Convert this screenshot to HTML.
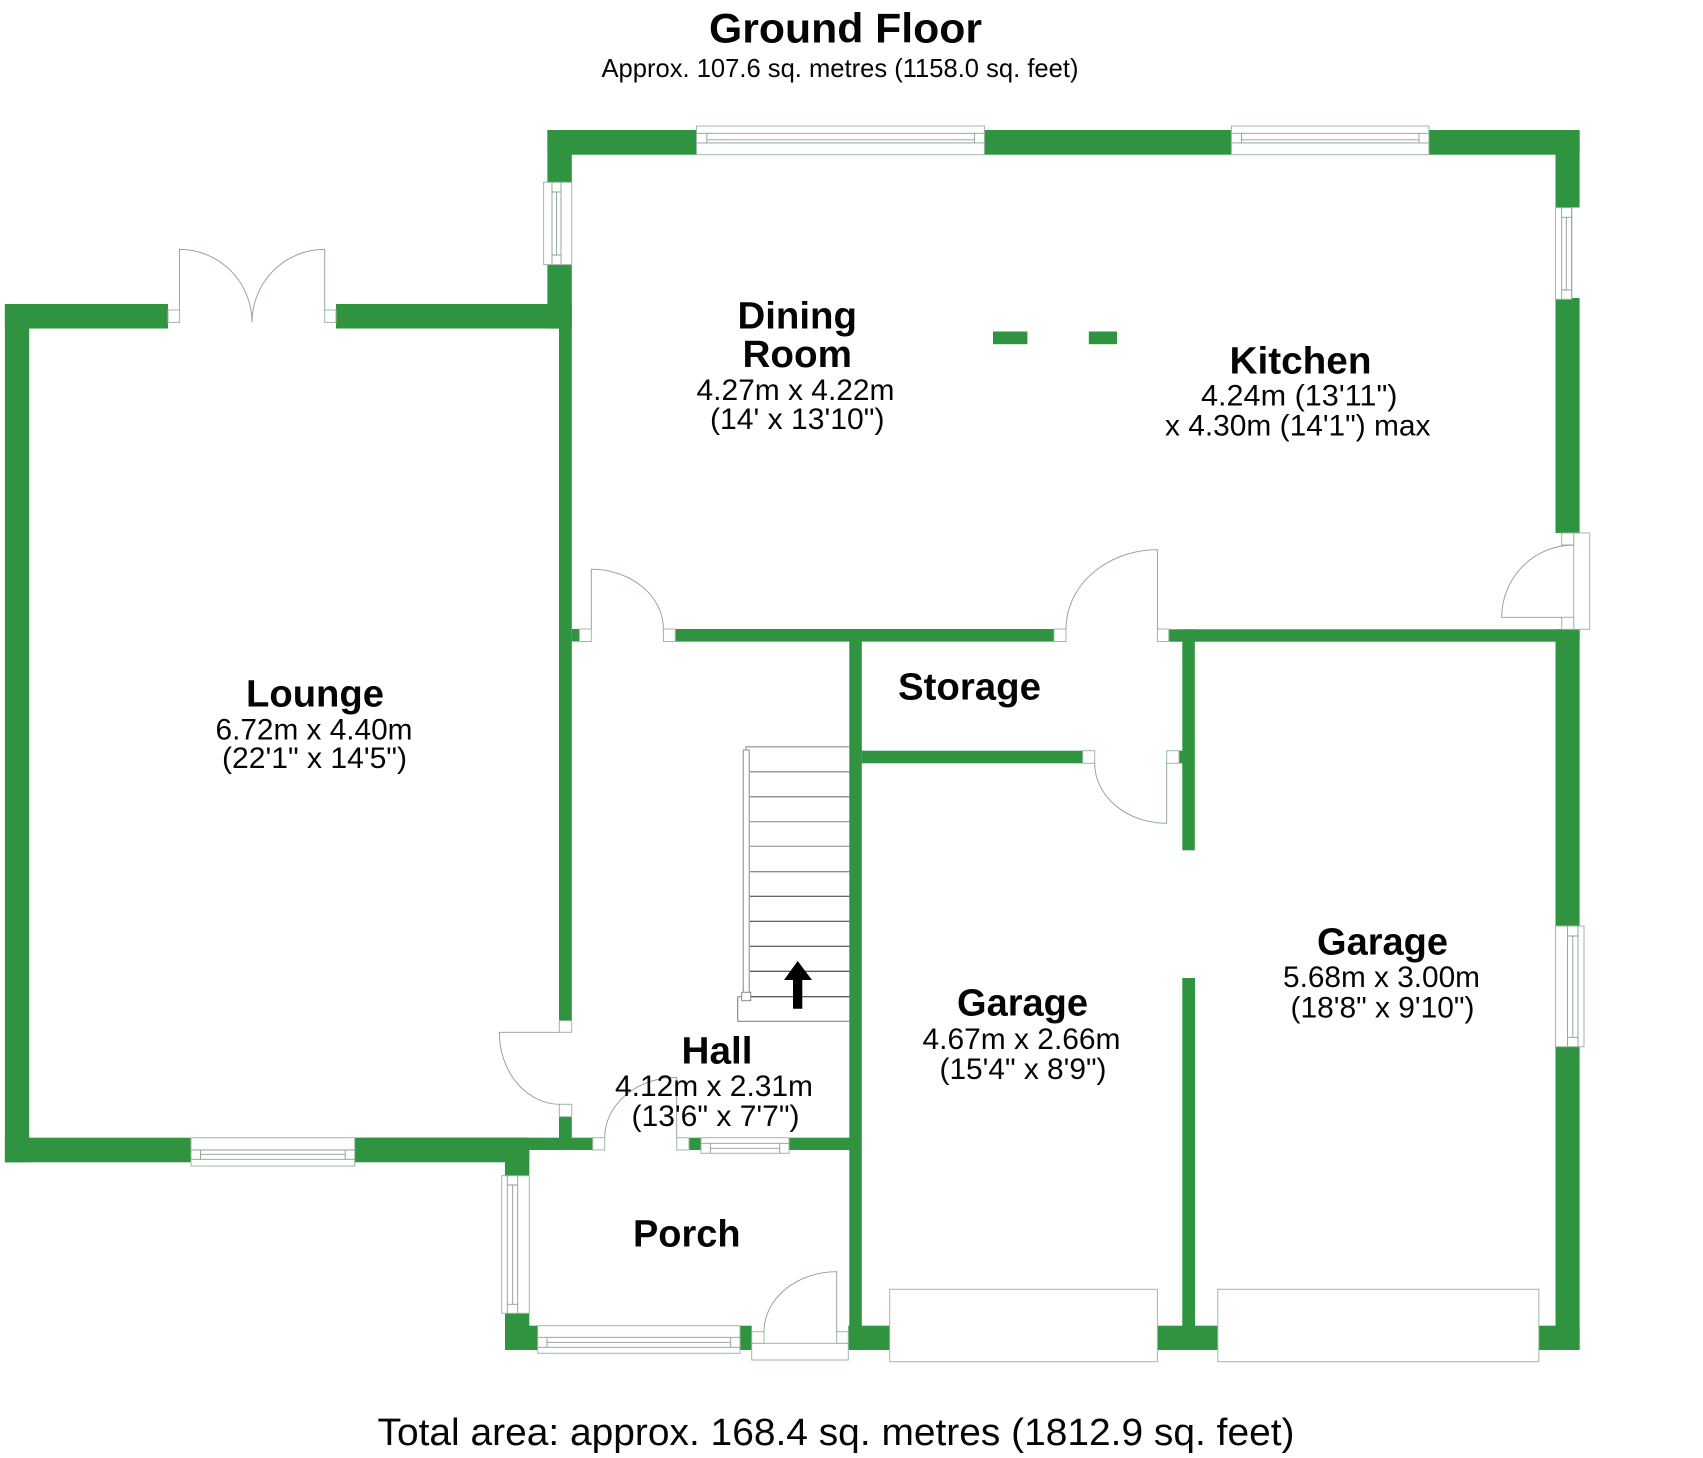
<!DOCTYPE html>
<html><head><meta charset="utf-8"><style>
html,body{margin:0;padding:0;background:#fff}
svg{display:block}
.w rect{fill:#2f933f}
.l *{fill:none;stroke:#8a9f92;stroke-width:.9}
.j *{fill:#fff;stroke:#9db8a6;stroke-width:1}
text{font-family:"Liberation Sans",sans-serif;fill:#050505}
.b{font-weight:bold;font-size:37.6px}
.d{font-size:29.4px}
</style></head><body>
<svg width="1703" height="1458" viewBox="0 0 1703 1458" xmlns="http://www.w3.org/2000/svg">
<rect width="1703" height="1458" fill="#fff"/>
<g class="w">
<rect x="547.4" y="130" width="149.1" height="24.7"/>
<rect x="547.4" y="130" width="24.4" height="52.3"/>
<rect x="547.4" y="264.6" width="24.4" height="64"/>
<rect x="4.9" y="304" width="163.1" height="24.5"/>
<rect x="4.9" y="304" width="24.3" height="858.3"/>
<rect x="336" y="304" width="235.8" height="24.5"/>
<rect x="559" y="328" width="12.8" height="692.7"/>
<rect x="571.8" y="629" width="7.6" height="12.5"/>
<rect x="675.3" y="629" width="378.7" height="12.6"/>
<rect x="849.3" y="629" width="12.5" height="721"/>
<rect x="861.7" y="750.7" width="221" height="12.6"/>
<rect x="984.4" y="130" width="247" height="24.7"/>
<rect x="1428.9" y="130" width="150.7" height="24.7"/>
<rect x="1555.5" y="130" width="24.1" height="77.5"/>
<rect x="1555.5" y="298" width="24.1" height="235"/>
<rect x="1555.5" y="629.3" width="24.1" height="297.4"/>
<rect x="1555.5" y="1047" width="24.1" height="303"/>
<rect x="1168.8" y="629.3" width="410.8" height="12.4"/>
<rect x="1182.3" y="629.3" width="12.5" height="221"/>
<rect x="1179" y="750.7" width="4" height="12.6"/>
<rect x="1182.3" y="978" width="12.7" height="372"/>
<rect x="993" y="331.5" width="34.4" height="12.7"/>
<rect x="1088.8" y="331.5" width="28.2" height="12.7"/>
<rect x="4.9" y="1137.7" width="186.1" height="24.6"/>
<rect x="354.7" y="1137.7" width="174.6" height="24.6"/>
<rect x="505" y="1137.7" width="24.3" height="38.3"/>
<rect x="354.7" y="1137.7" width="238" height="12.3"/>
<rect x="559" y="1116.7" width="12.8" height="21.5"/>
<rect x="689" y="1137.7" width="12" height="12.3"/>
<rect x="789" y="1137.7" width="60.5" height="12.3"/>
<rect x="505" y="1313.3" width="24.3" height="36.7"/>
<rect x="505" y="1325.7" width="32.7" height="24.3"/>
<rect x="740" y="1325.7" width="11.7" height="24.3"/>
<rect x="848.3" y="1325.7" width="41.7" height="24.3"/>
<rect x="1157.4" y="1325.7" width="60.4" height="24.3"/>
<rect x="1538.8" y="1325.7" width="40.8" height="24.3"/>
</g>
<g class="j">
<rect x="696.5" y="126" width="287.9" height="28.7"/>
<rect x="1231.4" y="126" width="197.5" height="28.7"/>
<rect x="543.6" y="182.3" width="28.2" height="82.3"/>
<rect x="1555.5" y="207.7" width="16.2" height="91.6"/>
<rect x="1573.7" y="533" width="16" height="96.3"/>
<rect x="1555.4" y="926" width="28.6" height="120.7"/>
<rect x="191" y="1137.7" width="163.7" height="28.3"/>
<rect x="501.7" y="1175.7" width="27.6" height="137.6"/>
<rect x="537.7" y="1325.7" width="202.3" height="27.6"/>
<rect x="701" y="1137.7" width="88" height="15.6"/>
<rect x="751.7" y="1343.3" width="96.6" height="16.7"/>
<rect x="889.7" y="1289.3" width="267.7" height="72.4"/>
<rect x="1217.8" y="1289.3" width="321" height="72.4"/>
<rect x="168" y="310" width="11.4" height="12.4"/>
<rect x="324.7" y="310" width="11.3" height="12.4"/>
<rect x="579.4" y="629" width="11.9" height="12.5"/>
<rect x="663.4" y="629" width="11.9" height="12.5"/>
<rect x="1054" y="629" width="12" height="12.5"/>
<rect x="1157.4" y="629" width="11.4" height="12.5"/>
<rect x="1082.7" y="750.7" width="12" height="12.6"/>
<rect x="1166.7" y="750.7" width="12.3" height="12.6"/>
<rect x="1561.7" y="533" width="12" height="12"/>
<rect x="1561.7" y="617.3" width="12" height="12"/>
<rect x="559.3" y="1020.7" width="12.4" height="11.6"/>
<rect x="559.3" y="1104.3" width="12.4" height="12.4"/>
<rect x="592.7" y="1137.7" width="12" height="12.3"/>
<rect x="676.7" y="1137.7" width="12.3" height="12.3"/>
<rect x="751.7" y="1331.7" width="12.3" height="11.6"/>
<rect x="836.7" y="1331.7" width="11.6" height="11.6"/>
</g>
<g class="l">
<path d="M696.5 133.3H984.4M706.8 133.3V142.9M974.4 133.3V142.9M706.8 139.8H974.4M696.5 142.9H984.4"/>
<path d="M1231.4 133.3H1428.9M1241.4 133.3V142.9M1419 133.3V142.9M1241.4 139.8H1419M1231.4 142.9H1428.9"/>
<path d="M552 182.3V264.6M561 182.3V264.6M552 192H561M552 255H561M556.5 192V255"/>
<path d="M1561.7 207.7V299.3M1571.7 207.7V299.3M1561.7 217.3H1571.7M1561.7 290H1571.7M1566.3 217.3V290"/>
<path d="M1567.4 926V1046.7M1578 926V1046.7M1567.4 936H1578M1567.4 1037.3H1578M1572.8 936V1037.3"/>
<path d="M191 1150H354.7M191 1159.3H354.7M200.5 1150V1159.3M345.2 1150V1159.3M200.5 1154.3H345.2"/>
<path d="M507.3 1175.7V1313.3M517.7 1175.7V1313.3M507.3 1185H517.7M507.3 1304.3H517.7M512.7 1185V1304.3"/>
<path d="M537.7 1337.3H740M537.7 1347.3H740M547 1337.3V1347.3M730.7 1337.3V1347.3M547 1342.3H730.7"/>
<path d="M701 1143.3H789M710.3 1143.3V1153.3M779.7 1143.3V1153.3M710.3 1148.3H779.7"/>
<path d="M179.4 310V249.3A72.6 73.1 0 0 1 252 322.4A72.7 73.1 0 0 1 324.7 249.3V310"/>
<path d="M591.3 629V569.2A72.1 59.8 0 0 1 663.4 629"/>
<path d="M1066 629A91.4 79.3 0 0 1 1157.4 549.7V629"/>
<path d="M1094.7 763.3A72 60 0 0 0 1166.7 823.3V763"/>
<path d="M1573.7 545A72 72.3 0 0 0 1501.7 617.3H1561.7"/>
<path d="M559.3 1032.3H499.3A60.7 72 0 0 0 560 1104.3"/>
<path d="M604.7 1137.7A72 60.4 0 0 1 676.7 1077.3V1137.7"/>
<path d="M764 1331.7A72.7 60 0 0 1 836.7 1271.7V1331.7"/>
</g>
<g fill="none" stroke="#666" stroke-width="1">
<path stroke="#aaa" stroke-width="1.5" d="M746 750V746.7H849.3"/>
<path stroke="#999" stroke-width="1.5" d="M749.3 771.7H849.3M749.3 796.7H849.3"/>
<path stroke="#888" d="M749.3 821.7H849.3M749.3 846.3H849.3"/>
<path stroke="#666" d="M749.3 871.7H849.3"/>
<path stroke="#333" d="M749.3 896.3H849.3M749.3 921.3H849.3M749.3 946.3H849.3"/>
<path stroke="#222" d="M749.3 971.3H849.3M750.7 996.7H849.3"/>
<path stroke="#777" d="M737.7 996.7V1021.3H849.3M737.7 996.7H741.7"/>
<rect x="743.3" y="750" width="6" height="243" stroke="#aaa" stroke-width="1.4"/>
<rect x="741.7" y="992.3" width="9" height="8.4" fill="#fff" stroke="#888"/>
</g>
<polygon points="797.7,961 812,980 802.3,980 802.3,1008.7 793,1008.7 793,980 784,980" fill="#000"/>
<text x="709" y="42.7" font-size="42" font-weight="bold" textLength="273" lengthAdjust="spacingAndGlyphs">Ground Floor</text>
<text x="601.5" y="77" font-size="26" textLength="477" lengthAdjust="spacingAndGlyphs">Approx. 107.6 sq. metres (1158.0 sq. feet)</text>
<text class="b" x="246" y="706.7" textLength="138" lengthAdjust="spacingAndGlyphs">Lounge</text>
<text class="d" x="215.5" y="739.3" textLength="197" lengthAdjust="spacingAndGlyphs">6.72m x 4.40m</text>
<text class="d" x="222" y="767.8" textLength="185" lengthAdjust="spacingAndGlyphs">(22'1" x 14'5")</text>
<text class="b" x="737.5" y="328.5" textLength="119.5" lengthAdjust="spacingAndGlyphs">Dining</text>
<text class="b" x="742.5" y="367" textLength="109.5" lengthAdjust="spacingAndGlyphs">Room</text>
<text class="d" x="696.5" y="400" textLength="198" lengthAdjust="spacingAndGlyphs">4.27m x 4.22m</text>
<text class="d" x="710" y="429" textLength="174.5" lengthAdjust="spacingAndGlyphs">(14' x 13'10")</text>
<text class="b" x="1229.5" y="373.6" textLength="142" lengthAdjust="spacingAndGlyphs">Kitchen</text>
<text class="d" x="1201" y="405.4" textLength="196.5" lengthAdjust="spacingAndGlyphs">4.24m (13'11")</text>
<text class="d" x="1165" y="435.6" textLength="265.5" lengthAdjust="spacingAndGlyphs">x 4.30m (14'1") max</text>
<text class="b" x="898" y="699.3" textLength="143" lengthAdjust="spacingAndGlyphs">Storage</text>
<text class="b" x="957" y="1015.7" textLength="131" lengthAdjust="spacingAndGlyphs">Garage</text>
<text class="d" x="922.5" y="1049" textLength="198" lengthAdjust="spacingAndGlyphs">4.67m x 2.66m</text>
<text class="d" x="939.5" y="1079" textLength="167" lengthAdjust="spacingAndGlyphs">(15'4" x 8'9")</text>
<text class="b" x="1317" y="954.3" textLength="131" lengthAdjust="spacingAndGlyphs">Garage</text>
<text class="d" x="1283" y="987" textLength="197" lengthAdjust="spacingAndGlyphs">5.68m x 3.00m</text>
<text class="d" x="1290.5" y="1017.3" textLength="184" lengthAdjust="spacingAndGlyphs">(18'8" x 9'10")</text>
<text class="b" x="681.5" y="1063.3" textLength="71" lengthAdjust="spacingAndGlyphs">Hall</text>
<text class="d" x="615" y="1096" textLength="198" lengthAdjust="spacingAndGlyphs">4.12m x 2.31m</text>
<text class="d" x="631.5" y="1126" textLength="168" lengthAdjust="spacingAndGlyphs">(13'6" x 7'7")</text>
<text class="b" x="633" y="1246.5" textLength="107.5" lengthAdjust="spacingAndGlyphs">Porch</text>
<text x="377.5" y="1445" font-size="37.6" textLength="917" lengthAdjust="spacingAndGlyphs">Total area: approx. 168.4 sq. metres (1812.9 sq. feet)</text>
</svg>
</body></html>
